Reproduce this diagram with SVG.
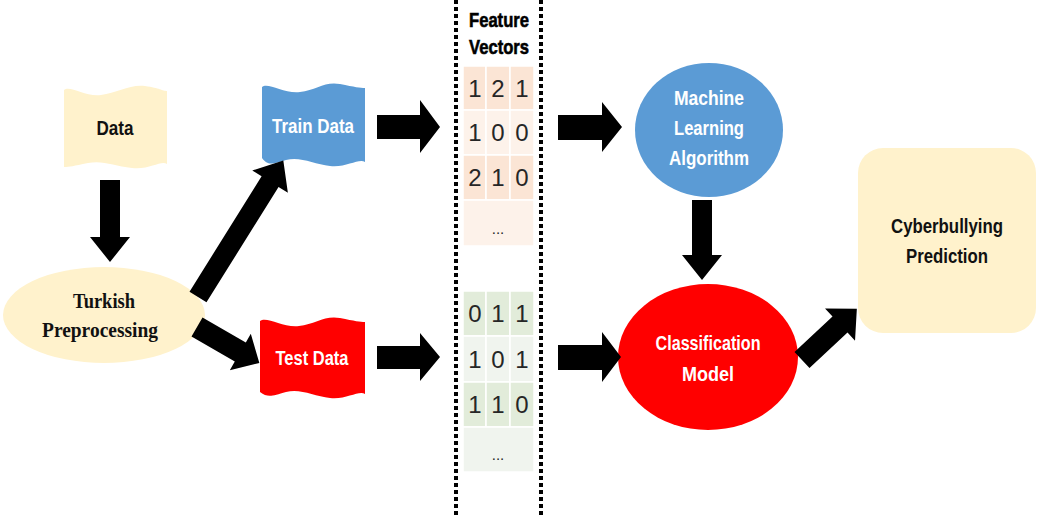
<svg xmlns="http://www.w3.org/2000/svg" width="1038" height="517" viewBox="0 0 1038 517">
<style>
.lbl{font-family:"Liberation Sans",Arial,sans-serif;font-weight:bold;text-anchor:middle}
.w{fill:#fff}
.k{fill:#111}
.num{font-family:"Liberation Sans",Arial,sans-serif;font-size:24px;fill:#262626;text-anchor:middle}
.arr{fill:#000}
.dot{stroke:#000;stroke-width:4;stroke-dasharray:4 3;fill:none}
</style>
<rect width="1038" height="517" fill="#fff"/>

<g id="data">
<path d="M64,90 C70,85 85,97 101,95 S130,84 145,86 S162,91 167,91 L167,164 C161,160 150,170 132,168 S103,160 88,163 S70,167 64,167 Z" fill="#fff2cc"/>
<text class="lbl k" x="115" y="135" font-size="20" textLength="37" lengthAdjust="spacingAndGlyphs">Data</text>
</g>

<g id="preprocessing">
<ellipse cx="104" cy="315" rx="101" ry="48" fill="#fff2cc"/>
<text x="104" y="308" font-family="'Liberation Serif','Times New Roman',serif" font-weight="bold" font-size="22" text-anchor="middle" fill="#111" textLength="62" lengthAdjust="spacingAndGlyphs">Turkish</text>
<text x="100" y="337" font-family="'Liberation Serif','Times New Roman',serif" font-weight="bold" font-size="22" text-anchor="middle" fill="#111" textLength="116" lengthAdjust="spacingAndGlyphs">Preprocessing</text>
</g>

<g id="train">
<path d="M262,87 C268,82 284,94 300,92 S325,81 340,84 S360,88 365,88 L365,162 C359,158 346,168 330,166 S300,156 286,160 S268,166 262,158 Z" fill="#5b9bd5"/>
<text class="lbl w" x="313" y="133" font-size="20" textLength="82" lengthAdjust="spacingAndGlyphs">Train Data</text>
</g>

<g id="test">
<path d="M260,321 C267,316 283,328 299,326 S325,315 340,318 S360,322 365,322 L365,394 C359,390 346,400 330,398 S300,388 286,392 S268,398 260,392 Z" fill="#ff0000"/>
<text class="lbl w" x="312" y="365" font-size="20" textLength="73" lengthAdjust="spacingAndGlyphs">Test Data</text>
</g>

<g id="feature-vectors">
<line class="dot" x1="456" y1="0" x2="456" y2="517"/>
<line class="dot" x1="541" y1="0" x2="541" y2="517"/>
<text class="lbl" x="499" y="27" font-size="21" fill="#000" stroke="#000" stroke-width="0.6" textLength="60" lengthAdjust="spacingAndGlyphs">Feature</text>
<text class="lbl" x="499" y="54" font-size="21" fill="#000" stroke="#000" stroke-width="0.6" textLength="60" lengthAdjust="spacingAndGlyphs">Vectors</text>
<g stroke="#fff" stroke-width="1.5">
<rect x="463" y="66" width="23" height="44" fill="#fbe5d5"/>
<rect x="486" y="66" width="24" height="44" fill="#fbe5d5"/>
<rect x="510" y="66" width="24" height="44" fill="#fbe5d5"/>
<rect x="463" y="110" width="23" height="45" fill="#fdf2ea"/>
<rect x="486" y="110" width="24" height="45" fill="#fdf2ea"/>
<rect x="510" y="110" width="24" height="45" fill="#fdf2ea"/>
<rect x="463" y="155" width="23" height="45" fill="#fbe5d5"/>
<rect x="486" y="155" width="24" height="45" fill="#fbe5d5"/>
<rect x="510" y="155" width="24" height="45" fill="#fbe5d5"/>
<rect x="463" y="200" width="71" height="46" fill="#fdf2ea"/>
<rect x="463" y="291" width="23" height="45" fill="#e2ecda"/>
<rect x="486" y="291" width="24" height="45" fill="#e2ecda"/>
<rect x="510" y="291" width="24" height="45" fill="#e2ecda"/>
<rect x="463" y="336" width="23" height="46" fill="#f0f4ee"/>
<rect x="486" y="336" width="24" height="46" fill="#f0f4ee"/>
<rect x="510" y="336" width="24" height="46" fill="#f0f4ee"/>
<rect x="463" y="382" width="23" height="45" fill="#e2ecda"/>
<rect x="486" y="382" width="24" height="45" fill="#e2ecda"/>
<rect x="510" y="382" width="24" height="45" fill="#e2ecda"/>
<rect x="463" y="427" width="71" height="45" fill="#f0f4ee"/>
</g>
<g class="num">
<text x="475" y="97">1</text><text x="498" y="97">2</text><text x="522" y="97">1</text>
<text x="475" y="141">1</text><text x="498" y="141">0</text><text x="522" y="141">0</text>
<text x="475" y="186">2</text><text x="498" y="186">1</text><text x="522" y="186">0</text>
<text x="498" y="234" font-size="15">...</text>
<text x="475" y="322">0</text><text x="498" y="322">1</text><text x="522" y="322">1</text>
<text x="475" y="368">1</text><text x="498" y="368">0</text><text x="522" y="368">1</text>
<text x="475" y="413">1</text><text x="498" y="413">1</text><text x="522" y="413">0</text>
<text x="498" y="460" font-size="15">...</text>
</g>
</g>

<g id="ml-algorithm">
<ellipse cx="709" cy="130" rx="74" ry="67" fill="#5b9bd5"/>
<text class="lbl w" x="709" y="105" font-size="20" textLength="70" lengthAdjust="spacingAndGlyphs">Machine</text>
<text class="lbl w" x="709" y="135" font-size="20" textLength="70" lengthAdjust="spacingAndGlyphs">Learning</text>
<text class="lbl w" x="709" y="165" font-size="20" textLength="80" lengthAdjust="spacingAndGlyphs">Algorithm</text>
</g>

<g id="classification">
<ellipse cx="708" cy="357" rx="90" ry="73" fill="#ff0000"/>
<text class="lbl w" x="708" y="350" font-size="20" textLength="105" lengthAdjust="spacingAndGlyphs">Classification</text>
<text class="lbl w" x="708" y="381" font-size="20" textLength="52" lengthAdjust="spacingAndGlyphs">Model</text>
</g>

<g id="prediction">
<rect x="858" y="148" width="178" height="185" rx="25" fill="#fff2cc"/>
<text class="lbl k" x="947" y="233" font-size="20" textLength="112" lengthAdjust="spacingAndGlyphs">Cyberbullying</text>
<text class="lbl k" x="947" y="263" font-size="20" textLength="82" lengthAdjust="spacingAndGlyphs">Prediction</text>
</g>

<g id="connectors" class="arr">
<polygon points="100,180 120,180 120,237 130,237 110,262 90,237 100,237"/>
<polygon points="0,-10 136,-10 136,-21 161,0 136,21 136,10 0,10" transform="translate(198,297) rotate(-58)"/>
<polygon points="0,-11 50,-11 50,-21 72,0 50,21 50,11 0,11" transform="translate(197,327) rotate(30)"/>
<polygon points="377,115 420,115 420,100 440,127 420,153 420,139 377,139"/>
<polygon points="377,346 420,346 420,333 440,357 420,381 420,369 377,369"/>
<polygon points="558,115 602,115 602,102 622,127 602,152 602,140 558,140"/>
<polygon points="558,345 602,345 602,332 621,357 602,382 602,370 558,370"/>
<polygon points="692,200 712,200 712,255 722,255 702,280 682,255 692,255"/>
<polygon points="0,-11 52,-11 52,-22 75,0 52,22 52,11 0,11" transform="translate(802,360) rotate(-43)"/>
</g>
</svg>
